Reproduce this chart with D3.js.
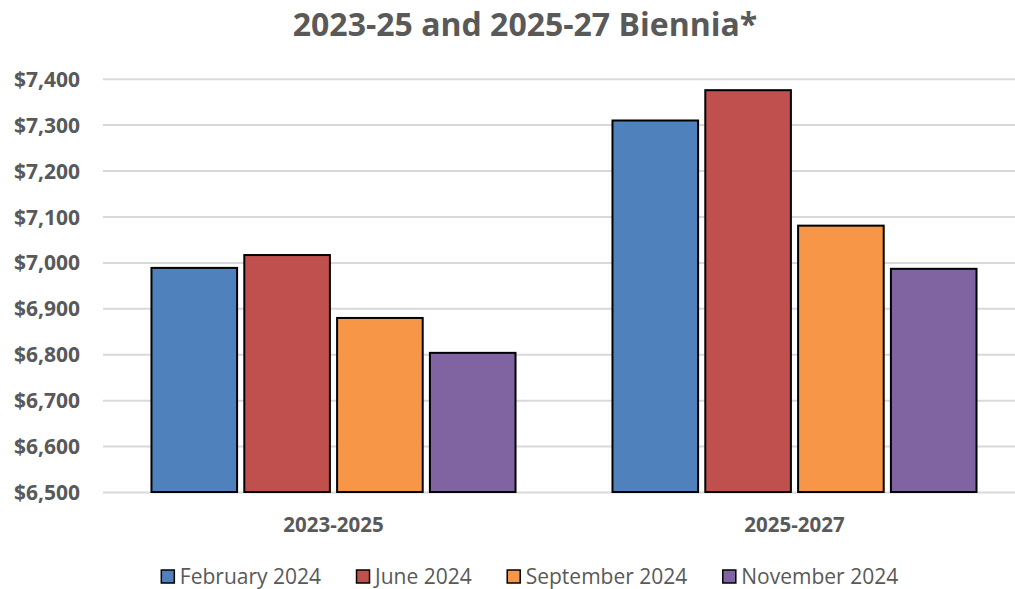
<!DOCTYPE html>
<html>
<head>
<meta charset="utf-8">
<script src="https://cdn.jsdelivr.net/npm/d3@7"></script>
<style>
  body { margin: 0; background: #fff; }
  text { font-family: "Open Sans", sans-serif; fill: #595959; }
</style>
</head>
<body>
<svg class="chart"></svg>
<script>
// chart values
const categories = ["2023-2025", "2025-2027"]
const series = ["February 2024", "June 2024", "September 2024", "November 2024"]
const february2024 = [6988, 7309]
const june2024 = [7016, 7375]
const september2024 = [6879, 7080]
const november2024 = [6803, 6986]
const yTicks = [6500, 6600, 6700, 6800, 6900, 7000, 7100, 7200, 7300, 7400]
const colors = ["#4F81BD", "#C0504D", "#F79646", "#8064A2"]

const values = [february2024, june2024, september2024, november2024]
const width = 1015, height = 589
const plot = {left: 103, right: 1025, top: 78.7, bottom: 492}

let svg = d3.select(".chart")
    .attr("width", width)
    .attr("height", height)

let x0 = d3.scaleBand()//groups
    .domain(categories)
    .range([plot.left, plot.right])
    .paddingInner(0.206)
    .paddingOuter(0.103)

let x1 = d3.scaleBand()//bars inside a group
    .domain(series)
    .range([0, x0.bandwidth()])
    .paddingInner(0.056)

let y = d3.scaleLinear()
    .domain([6500, 7400])
    .range([plot.bottom, plot.top])

//title
svg.append("text")
    .attr("x", 525)
    .attr("y", 36)
    .attr("text-anchor", "middle")
    .style("font-size", "32px")
    .style("font-weight", "bold")
    .text("2023-25 and 2025-27 Biennia*")

//y axis with gridlines
let yAxis = svg.append("g")
    .attr("transform", "translate(" + plot.left + ",0)")
    .call(d3.axisLeft(y)
      .tickValues(yTicks)
      .tickSize(-(width - plot.left))
      .tickPadding(23)
      .tickFormat(d3.format("$,")))
yAxis.select(".domain").remove()
yAxis.selectAll(".tick line")
    .attr("stroke", "#D9D9D9")
    .attr("stroke-width", 2)
yAxis.selectAll(".tick text")
    .attr("dy", "0.36em")
    .style("font-size", "21px")
    .style("font-weight", "bold")
    .style("fill", "#595959")

//bars
let groups = svg.selectAll(".group")
    .data(categories)
    .enter().append("g")
    .attr("class", "group")
    .attr("transform", function(d){return "translate(" + x0(d) + ",0)"})

groups.selectAll("rect")
    .data(function(d, i){
      return series.map(function(s, j){return {s: s, v: values[j][i], c: colors[j]}})
    })
    .enter().append("rect")
    .attr("x", function(d){return x1(d.s) + 1})
    .attr("width", x1.bandwidth() - 2)
    .attr("y", function(d){return y(d.v)})
    .attr("height", function(d){return y(6500) - y(d.v)})
    .attr("fill", function(d){return d.c})
    .attr("stroke", "#000")
    .attr("stroke-width", 2)

//category labels
svg.selectAll(".cat")
    .data(categories)
    .enter().append("text")
    .attr("class", "cat")
    .attr("x", function(d){return x0(d) + x0.bandwidth() / 2})
    .attr("y", 531.5)
    .attr("text-anchor", "middle")
    .style("font-size", "20.5px")
    .style("font-weight", "bold")
    .text(function(d){return d})

//legend, laid out by measured text widths and centered
let legend = svg.append("g")
let items = legend.selectAll("g")
    .data(series)
    .enter().append("g")
items.append("rect")
    .attr("x", 0.5)
    .attr("y", 570)
    .attr("width", 13)
    .attr("height", 13)
    .attr("fill", function(d, i){return colors[i]})
    .attr("stroke", "#000")
    .attr("stroke-width", 1.5)
items.append("text")
    .attr("x", 19)
    .attr("y", 584)
    .style("font-size", "21px")
    .text(function(d){return d})

let offset = 0
items.each(function(){
  let g = d3.select(this)
  g.attr("transform", "translate(" + offset + ",0)")
  offset += 19 + g.select("text").node().getComputedTextLength() + 35
})
let legendWidth = offset - 35
legend.attr("transform", "translate(" + (529.5 - legendWidth / 2) + ",0)")
</script>
</body>
</html>
